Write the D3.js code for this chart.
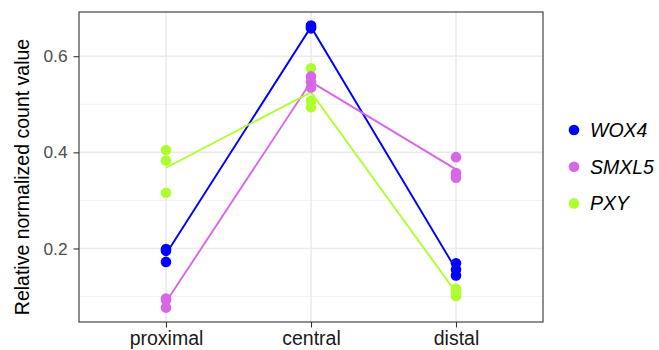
<!DOCTYPE html>
<html>
<head>
<meta charset="utf-8">
<script src="https://cdn.jsdelivr.net/npm/d3@7"></script>
<style>
  html, body { margin: 0; padding: 0; background: #fff; }
  svg { display: block; font-family: "Liberation Sans", Arial, Helvetica, sans-serif; }
</style>
</head>
<body>
<svg id="chart" width="659" height="350"></svg>
<script>
// Sampling positions along the stem and the genes measured there
const categories = ["proximal", "central", "distal"];
const genes = ["WOX4", "SMXL5", "PXY"];
const geneColors = ["#0000ff", "#d867e8", "#adff2f"];

// Replicate values per position (proximal, central, distal)
const wox4Values  = [[0.199, 0.195, 0.172], [0.664, 0.661, 0.658], [0.169, 0.156, 0.144]];
const smxl5Values = [[0.096, 0.093, 0.077], [0.558, 0.547, 0.535], [0.390, 0.357, 0.347]];
const pxyValues   = [[0.405, 0.383, 0.316], [0.575, 0.507, 0.494], [0.116, 0.108, 0.101]];

const yTicks = [0.2, 0.4, 0.6];
const yMinorTicks = [0.1, 0.3, 0.5];
const yTitle = "Relative normalized count value";

const seriesValues = [wox4Values, smxl5Values, pxyValues];
const series = genes.map((g, i) => ({
  gene: g,
  color: geneColors[i],
  reps: seriesValues[i],
  means: seriesValues[i].map(v => d3.mean(v))
}));

const svg = d3.select("#chart");
const panel = { left: 79, right: 543, top: 12, bottom: 322 };

const x = d3.scalePoint().domain(categories).range([panel.left, panel.right]).padding(0.6);
const y = d3.scaleLinear().domain([0.047, 0.692]).range([panel.bottom, panel.top]);

// panel background and grid
svg.append("rect")
  .attr("x", panel.left).attr("y", panel.top)
  .attr("width", panel.right - panel.left).attr("height", panel.bottom - panel.top)
  .attr("fill", "#fff");

const grid = svg.append("g");
grid.selectAll("line.minor").data(yMinorTicks).join("line")
  .attr("x1", panel.left).attr("x2", panel.right)
  .attr("y1", d => y(d)).attr("y2", d => y(d))
  .attr("stroke", "#f2f2f2").attr("stroke-width", 1);
grid.selectAll("line.major").data(yTicks).join("line")
  .attr("x1", panel.left).attr("x2", panel.right)
  .attr("y1", d => y(d)).attr("y2", d => y(d))
  .attr("stroke", "#ebebeb").attr("stroke-width", 1.6);
grid.selectAll("line.vert").data(categories).join("line")
  .attr("x1", d => x(d)).attr("x2", d => x(d))
  .attr("y1", panel.top).attr("y2", panel.bottom)
  .attr("stroke", "#ebebeb").attr("stroke-width", 1.6);

// mean lines
const line = d3.line().x((d, i) => x(categories[i])).y(d => y(d));
svg.append("g").selectAll("path").data(series).join("path")
  .attr("d", s => line(s.means))
  .attr("fill", "none")
  .attr("stroke", s => s.color)
  .attr("stroke-width", 1.9);

// replicate points
const pts = [];
series.slice().reverse().forEach(s => {
  s.reps.forEach((vals, ci) => vals.forEach(v => pts.push({ cat: categories[ci], v, color: s.color })));
});
svg.append("g").selectAll("circle").data(pts).join("circle")
  .attr("cx", d => x(d.cat)).attr("cy", d => y(d.v))
  .attr("r", 5.3).attr("fill", d => d.color);

// panel border
svg.append("rect")
  .attr("x", panel.left).attr("y", panel.top)
  .attr("width", panel.right - panel.left).attr("height", panel.bottom - panel.top)
  .attr("fill", "none").attr("stroke", "#333").attr("stroke-width", 1.1);

// axes
const yAxis = svg.append("g")
  .attr("transform", `translate(${panel.left},0)`)
  .call(d3.axisLeft(y).tickValues(yTicks).tickFormat(d3.format(".1f")).tickSize(5.5).tickPadding(6));
yAxis.select(".domain").remove();
yAxis.selectAll(".tick line").attr("stroke", "#333").attr("stroke-width", 1.1);
yAxis.selectAll(".tick text").attr("fill", "#4d4d4d").style("font-size", "17.3px");

const xAxis = svg.append("g")
  .attr("transform", `translate(0,${panel.bottom})`)
  .call(d3.axisBottom(x).tickSize(5.5).tickPadding(4));
xAxis.select(".domain").remove();
xAxis.selectAll(".tick line").attr("stroke", "#333").attr("stroke-width", 1.1);
xAxis.selectAll(".tick text").attr("fill", "#1a1a1a").style("font-size", "19.5px");

// y axis title
svg.append("text")
  .attr("transform", `translate(29,177) rotate(-90)`)
  .attr("text-anchor", "middle")
  .style("font-size", "19.5px")
  .attr("fill", "#000")
  .text(yTitle);

// legend
const legend = svg.append("g").selectAll("g").data(series).join("g")
  .attr("transform", (d, i) => `translate(574,${130 + i * 36.7})`);
legend.append("circle").attr("r", 5.3).attr("fill", d => d.color);
legend.append("text")
  .attr("x", 16).attr("dy", "0.35em")
  .style("font-size", "19.5px").style("font-style", "italic")
  .attr("fill", "#000")
  .text(d => d.gene);
</script>
</body>
</html>
